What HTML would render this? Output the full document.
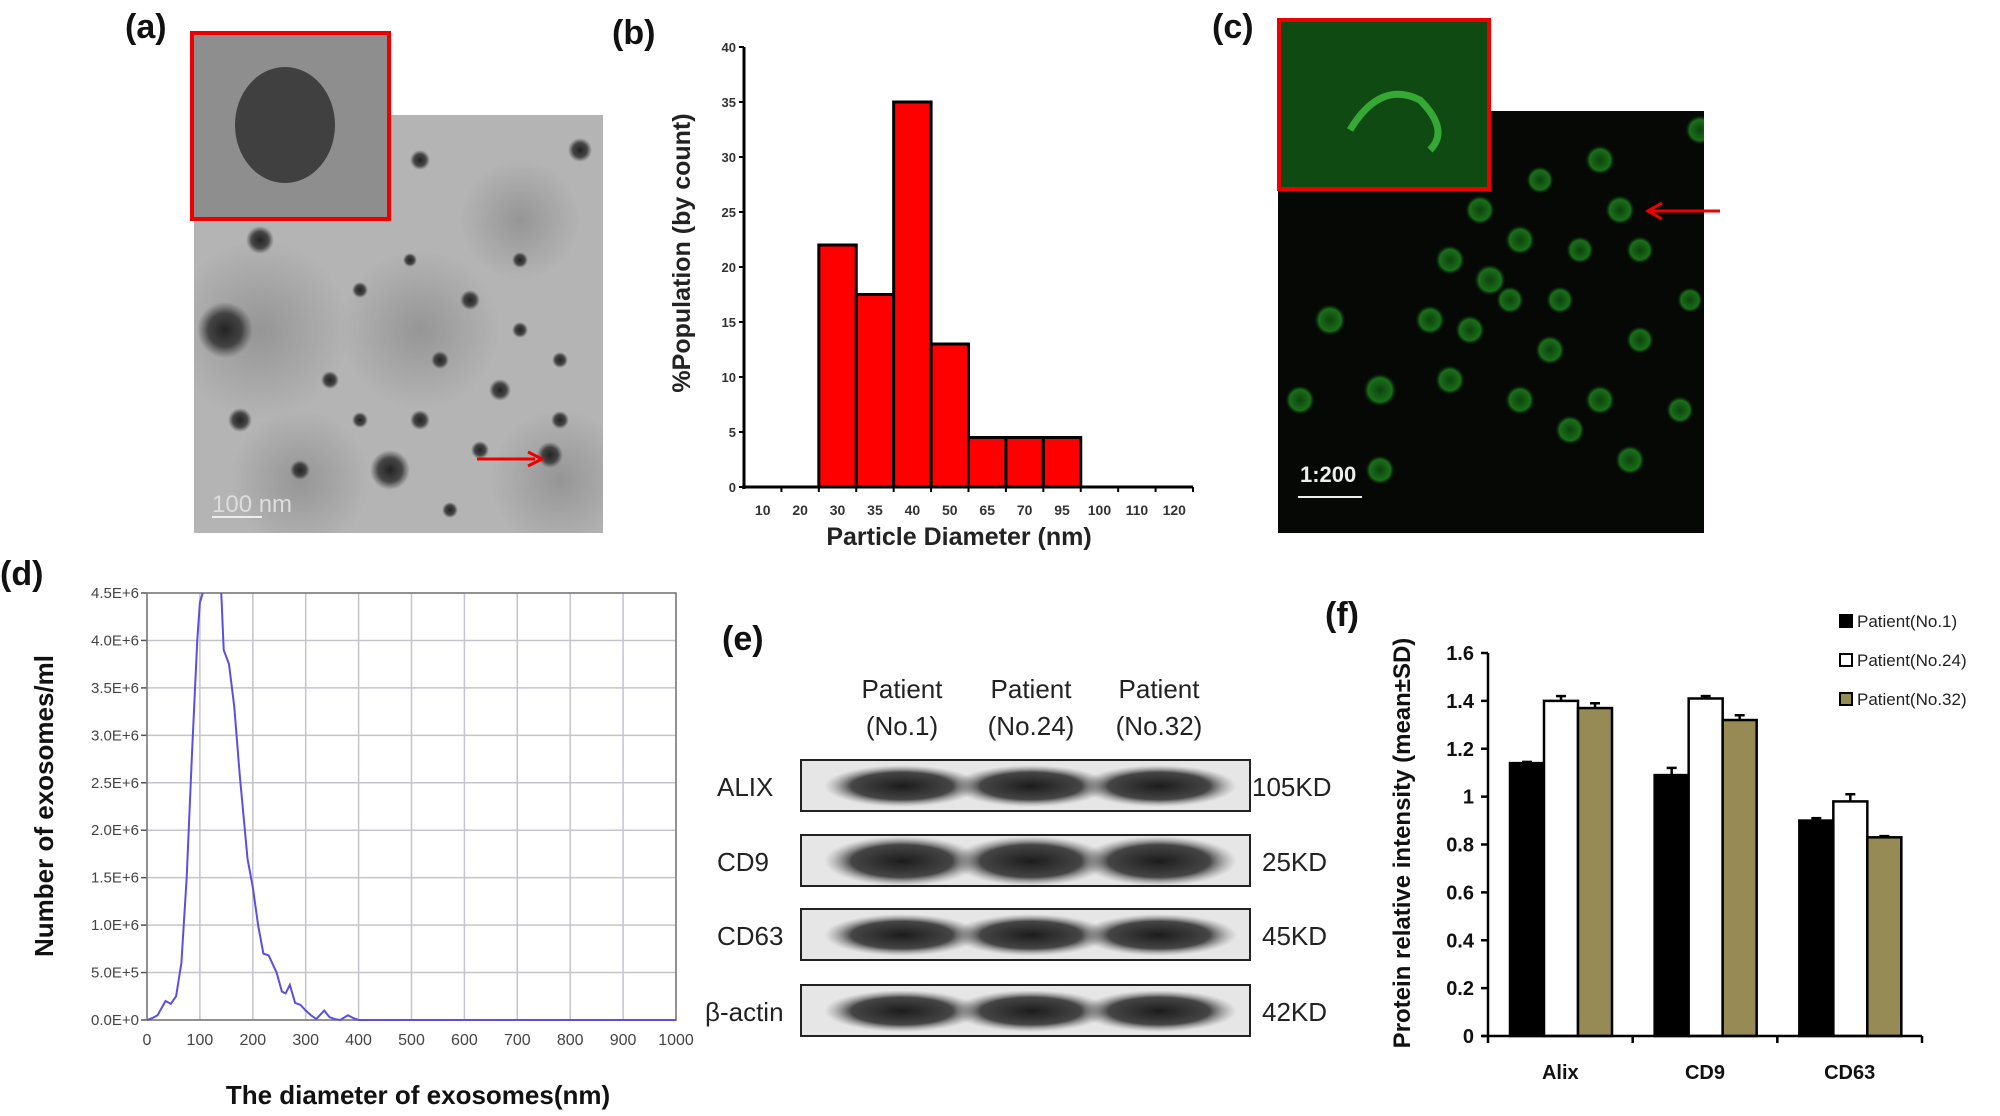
<!DOCTYPE html>
<html><head><meta charset="utf-8"><style>
html,body{margin:0;padding:0;background:#fff;}
svg{display:block;font-family:"Liberation Sans",sans-serif;}
</style></head><body>
<svg id="fig" width="2000" height="1116" viewBox="0 0 2000 1116" xmlns="http://www.w3.org/2000/svg">
<defs>
<radialGradient id="blob" cx="50%" cy="50%" r="50%"><stop offset="0%" stop-color="#222"/><stop offset="60%" stop-color="#333" stop-opacity="0.85"/><stop offset="100%" stop-color="#444" stop-opacity="0"/></radialGradient>
<radialGradient id="haze" cx="50%" cy="50%" r="50%"><stop offset="0%" stop-color="#777" stop-opacity="0.5"/><stop offset="100%" stop-color="#777" stop-opacity="0"/></radialGradient>
<radialGradient id="band" cx="50%" cy="50%" r="50%"><stop offset="0%" stop-color="#111"/><stop offset="65%" stop-color="#2a2a2a" stop-opacity="0.9"/><stop offset="100%" stop-color="#888" stop-opacity="0"/></radialGradient>
<radialGradient id="cell" cx="50%" cy="50%" r="50%"><stop offset="0%" stop-color="#0e4a0e"/><stop offset="70%" stop-color="#1d7a1d"/><stop offset="100%" stop-color="#0a200a" stop-opacity="0"/></radialGradient>
<clipPath id="dclip"><rect x="147" y="593" width="529" height="430"/></clipPath>
<clipPath id="aclip"><rect x="194" y="115" width="409" height="418"/></clipPath>
<clipPath id="cclip"><rect x="1278" y="111" width="426" height="422"/></clipPath>
</defs>

<g font-weight="bold" font-size="34" fill="#111">
<text x="125" y="38">(a)</text>
<text x="612" y="44">(b)</text>
<text x="1212" y="38">(c)</text>
<text x="0" y="585">(d)</text>
<text x="722" y="650">(e)</text>
<text x="1325" y="626">(f)</text>
</g>

<g>
<rect x="194" y="115" width="409" height="418" fill="#b4b4b4"/>
<g clip-path="url(#aclip)" fill="url(#haze)">
<circle cx="260" cy="330" r="90"/><circle cx="420" cy="330" r="80"/><circle cx="560" cy="480" r="70"/><circle cx="300" cy="480" r="70"/><circle cx="520" cy="220" r="60"/>
</g>
<g fill="url(#blob)">
<circle cx="225" cy="330" r="28"/><circle cx="390" cy="470" r="20"/><circle cx="550" cy="455" r="13"/>
<circle cx="420" cy="420" r="10"/><circle cx="560" cy="420" r="9"/><circle cx="470" cy="300" r="10"/>
<circle cx="260" cy="240" r="14"/><circle cx="330" cy="380" r="9"/><circle cx="500" cy="390" r="11"/>
<circle cx="580" cy="150" r="12"/><circle cx="420" cy="160" r="10"/><circle cx="520" cy="260" r="8"/>
<circle cx="300" cy="470" r="10"/><circle cx="450" cy="510" r="8"/><circle cx="240" cy="420" r="12"/>
<circle cx="360" cy="290" r="8"/><circle cx="560" cy="360" r="8"/><circle cx="480" cy="450" r="9"/>
<circle cx="440" cy="360" r="9"/><circle cx="360" cy="420" r="8"/><circle cx="520" cy="330" r="8"/><circle cx="410" cy="260" r="7"/>
</g>
<path d="M477 459 H535" stroke="#e00" stroke-width="3"/><path d="M528 452 L542 459 L528 466" fill="none" stroke="#e00" stroke-width="3"/>
<line x1="212" y1="517" x2="262" y2="517" stroke="#eee" stroke-width="2"/>
<text x="212" y="512" font-size="24" fill="#ddd">100 nm</text>
</g>
<g>
<rect x="192" y="33" width="197" height="186" fill="#8e8e8e" stroke="#e00" stroke-width="4"/>
<ellipse cx="285" cy="125" rx="50" ry="58" fill="#333" opacity="0.85"/>
</g>

<g>
<rect x="1278" y="111" width="426" height="422" fill="#050805"/>
<g clip-path="url(#cclip)" fill="url(#cell)" opacity="0.9">
<circle cx="1480" cy="210" r="15"/><circle cx="1520" cy="240" r="15"/><circle cx="1450" cy="260" r="15"/>
<circle cx="1490" cy="280" r="16"/><circle cx="1430" cy="320" r="15"/><circle cx="1470" cy="330" r="15"/>
<circle cx="1510" cy="300" r="14"/><circle cx="1560" cy="300" r="14"/><circle cx="1600" cy="160" r="15"/>
<circle cx="1620" cy="210" r="15"/><circle cx="1580" cy="250" r="14"/><circle cx="1640" cy="250" r="14"/>
<circle cx="1330" cy="320" r="16"/><circle cx="1380" cy="390" r="17"/><circle cx="1450" cy="380" r="15"/>
<circle cx="1550" cy="350" r="15"/><circle cx="1600" cy="400" r="15"/><circle cx="1570" cy="430" r="15"/>
<circle cx="1630" cy="460" r="15"/><circle cx="1680" cy="410" r="14"/><circle cx="1520" cy="400" r="15"/>
<circle cx="1640" cy="340" r="14"/><circle cx="1300" cy="400" r="15"/><circle cx="1380" cy="470" r="15"/>
<circle cx="1700" cy="130" r="15"/><circle cx="1690" cy="300" r="13"/><circle cx="1540" cy="180" r="14"/>
</g>
<path d="M1650 211 H1720" stroke="#e00" stroke-width="3"/><path d="M1662 203 L1648 211 L1662 219" fill="none" stroke="#e00" stroke-width="3"/>
<text x="1300" y="482" font-size="22" font-weight="bold" fill="#eee">1:200</text>
<line x1="1298" y1="497" x2="1362" y2="497" stroke="#eee" stroke-width="2"/>
</g>
<g>
<rect x="1279" y="20" width="210" height="169" fill="#0f4a12" stroke="#e00" stroke-width="4"/>
<path d="M1350 130 Q1380 80 1420 100 Q1450 130 1430 150" fill="none" stroke="#3fbf3f" stroke-width="7" opacity="0.8"/>
</g>

<g id="panelB"></g>
<g id="panelD"></g>
<g id="panelF"></g>

<g font-size="26" fill="#222">
<g text-anchor="middle">
<text x="902" y="698">Patient</text>
<text x="902" y="735">(No.1)</text>
<text x="1031" y="698">Patient</text>
<text x="1031" y="735">(No.24)</text>
<text x="1159" y="698">Patient</text>
<text x="1159" y="735">(No.32)</text>
</g>
<g id="blotRows"></g>
</g>
</svg>
<script>
const NS='http://www.w3.org/2000/svg';
function mk(parent,tag,attrs,text){const e=document.createElementNS(NS,tag);for(const k in attrs)e.setAttribute(k,attrs[k]);if(text!==undefined)e.textContent=text;parent.appendChild(e);return e;}

/* ---------- Panel b: histogram ---------- */
const histCategories=['10','20','30','35','40','50','65','70','95','100','110','120'];
const histValues=[0,0,22,17.5,35,13,4.5,4.5,4.5,0,0,0];
const histYTicks=[0,5,10,15,20,25,30,35,40];
(function(){
const g=document.getElementById('panelB');
const x0=744,x1=1193,y0=487,yTop=47,yMax=40;
const bw=(x1-x0)/histCategories.length;
const ys=v=>y0-(v/yMax)*(y0-yTop);
histValues.forEach((v,i)=>{ if(v<=0)return;
 const r=mk(g,'rect',{x:x0+i*bw,y:ys(v),width:bw,height:y0-ys(v),fill:'#ff0000',stroke:'#000','stroke-width':3});
 
 });
mk(g,'line',{x1:x0,y1:yTop,x2:x0,y2:y0+2,stroke:'#000','stroke-width':3});
mk(g,'line',{x1:x0-2,y1:y0,x2:x1,y2:y0,stroke:'#000','stroke-width':3});
histYTicks.forEach(t=>{const y=ys(t);
 mk(g,'line',{x1:x0-5,y1:y,x2:x0,y2:y,stroke:'#000','stroke-width':2});
 const tx=mk(g,'text',{x:x0-8,y:y+5,'text-anchor':'end','font-size':13,'font-weight':'bold',fill:'#333'},t);
 
 });
histCategories.forEach((c,i)=>{
 mk(g,'line',{x1:x0+(i+1)*bw,y1:y0,x2:x0+(i+1)*bw,y2:y0+5,stroke:'#000','stroke-width':2});
 const tx=mk(g,'text',{x:x0+(i+0.5)*bw,y:y0+28,'text-anchor':'middle','font-size':14,'font-weight':'bold',fill:'#333'},c);
 
 });
const xt=mk(g,'text',{x:959,y:545,'text-anchor':'middle','font-size':25,'font-weight':'bold',fill:'#222'},'Particle Diameter (nm)');


const yt=mk(g,'text',{x:0,y:0,transform:'translate(690,253) rotate(-90)','text-anchor':'middle','font-size':25,'font-weight':'bold',fill:'#222'},'%Population (by count)');


})();

/* ---------- Panel d: NTA line ---------- */
const ntaX=[0,10,20,30,35,45,55,65,75,85,95,100,108,120,130,140,145,155,165,175,190,200,210,220,230,245,255,262,270,280,290,300,310,320,335,345,355,365,380,390,400,1000];
const ntaY=[0,0.02,0.05,0.15,0.2,0.17,0.25,0.6,1.5,2.8,4.0,4.4,4.55,4.7,4.7,4.55,3.9,3.75,3.3,2.6,1.7,1.4,1.0,0.7,0.68,0.5,0.3,0.28,0.37,0.18,0.16,0.1,0.05,0.01,0.1,0.03,0.01,0,0.05,0.02,0,0];
const ntaXTicks=[0,100,200,300,400,500,600,700,800,900,1000];
const ntaYTicks=['0.0E+0','5.0E+5','1.0E+6','1.5E+6','2.0E+6','2.5E+6','3.0E+6','3.5E+6','4.0E+6','4.5E+6'];
(function(){
const g=document.getElementById('panelD');
const L=147,R=676,T=593,B=1020;
const xs=v=>L+v/1000*(R-L), ys=v=>B-v/4.5*(B-T);
ntaXTicks.forEach(t=>{mk(g,'line',{x1:xs(t),y1:T,x2:xs(t),y2:B,stroke:'#c4c4cc','stroke-width':1.5});
 const tx=mk(g,'text',{x:xs(t),y:B+25,'text-anchor':'middle','font-size':16,fill:'#444'},t);
 
 });
ntaYTicks.forEach((t,i)=>{const y=ys(i*0.5);
 mk(g,'line',{x1:L,y1:y,x2:R,y2:y,stroke:'#c4c4cc','stroke-width':1.5});
 mk(g,'line',{x1:L-6,y1:y,x2:L,y2:y,stroke:'#555','stroke-width':1.5});
 const tx=mk(g,'text',{x:L-8,y:y+5,'text-anchor':'end','font-size':15,fill:'#444'},t);
 
 });
mk(g,'rect',{x:L,y:T,width:R-L,height:B-T,fill:'none',stroke:'#777','stroke-width':1.5});
const p=mk(g,'polyline',{points:ntaX.map((x,i)=>xs(x)+','+ys(ntaY[i])).join(' '),fill:'none',stroke:'#5a4fe0','stroke-width':2,'clip-path':'url(#dclip)'});


const xt=mk(g,'text',{x:418,y:1104,'text-anchor':'middle','font-size':26,'font-weight':'bold',fill:'#111'},'The diameter of exosomes(nm)');


const yt=mk(g,'text',{x:0,y:0,transform:'translate(53,806) rotate(-90)','text-anchor':'middle','font-size':26,'font-weight':'bold',fill:'#111'},'Number of exosomes/ml');


})();

/* ---------- Panel e: blot rows ---------- */
const blotProteins=['ALIX','CD9','CD63','β-actin'];
const blotWeights=['105KD','25KD','45KD','42KD'];
(function(){
const g=document.getElementById('blotRows');
const tops=[760,835,909,985];
blotProteins.forEach((p,i)=>{const y=tops[i];
 const lb=mk(g,'text',{x:i===3?705:717,y:y+36,'font-size':26,fill:'#222'},p);
 
 
 const r=mk(g,'rect',{x:801,y:y,width:449,height:51,fill:'#e6e6e6',stroke:'#222','stroke-width':2});
 
 
 [902,1031,1159].forEach(cx=>{mk(g,'ellipse',{cx:cx,cy:y+26,rx:78,ry:i===1?25:21,fill:'url(#band)',opacity:0.95});});
 const w=mk(g,'text',{x:i===0?1252:1262,y:y+36,'font-size':26,fill:'#222'},blotWeights[i]);
 
 });
})();

/* ---------- Panel f: bar chart ---------- */
const protCategories=['Alix','CD9','CD63'];
const seriesNames=['Patient(No.1)','Patient(No.24)','Patient(No.32)'];
const seriesNo1=[1.14,1.09,0.90];
const seriesNo24=[1.40,1.41,0.98];
const seriesNo32=[1.37,1.32,0.83];
const errNo1=[0.005,0.03,0.01];
const errNo24=[0.02,0.01,0.03];
const errNo32=[0.02,0.02,0.005];
const protYTicks=['0','0.2','0.4','0.6','0.8','1','1.2','1.4','1.6'];
(function(){
const g=document.getElementById('panelF');
const L=1488,R=1922,T=653,B=1036,yMax=1.6;
const ys=v=>B-v/yMax*(B-T);
const gw=(R-L)/3, bw=34, off=22;
const colors=['#000','#fff','#968b55'];
const series=[seriesNo1,seriesNo24,seriesNo32], errs=[errNo1,errNo24,errNo32];
protCategories.forEach((c,ci)=>{
 series.forEach((s,si)=>{const x=L+ci*gw+off+si*bw, y=ys(s[ci]);
  const r=mk(g,'rect',{x:x,y:y,width:bw,height:B-y,fill:colors[si],stroke:'#000','stroke-width':2.5});
  
  
  const ye=ys(s[ci]+errs[si][ci]);
  mk(g,'line',{x1:x+bw/2,y1:y,x2:x+bw/2,y2:ye,stroke:'#000','stroke-width':2.5});
  mk(g,'line',{x1:x+bw/2-5,y1:ye,x2:x+bw/2+5,y2:ye,stroke:'#000','stroke-width':2.5});});
 const tx=mk(g,'text',{x:L+(ci+0.5)*gw,y:1079,'text-anchor':'middle','font-size':20,'font-weight':'bold',fill:'#111'},c);
 
 
 mk(g,'line',{x1:L+(ci+1)*gw,y1:B,x2:L+(ci+1)*gw,y2:B+7,stroke:'#000','stroke-width':2.5});});
mk(g,'line',{x1:L,y1:T,x2:L,y2:B+7,stroke:'#000','stroke-width':2.5});
mk(g,'line',{x1:L-6,y1:B,x2:R,y2:B,stroke:'#000','stroke-width':2.5});
protYTicks.forEach(t=>{const y=ys(parseFloat(t));
 mk(g,'line',{x1:L-7,y1:y,x2:L,y2:y,stroke:'#000','stroke-width':2.5});
 const tx=mk(g,'text',{x:L-14,y:y+7,'text-anchor':'end','font-size':20,'font-weight':'bold',fill:'#111'},t);
 
 });
const yt=mk(g,'text',{x:0,y:0,transform:'translate(1410,843) rotate(-90)','text-anchor':'middle','font-size':24,'font-weight':'bold',fill:'#111'},'Protein relative intensity (mean±SD)');


seriesNames.forEach((n,i)=>{const y=621+i*39;
 const lg=mk(g,'g',{});
 
 
 mk(lg,'rect',{x:1840,y:y-6,width:12,height:12,fill:colors[i],stroke:'#000','stroke-width':2});
 mk(lg,'text',{x:1857,y:y+6,'font-size':17,fill:'#222'},n);});
})();
</script>
</body></html>
